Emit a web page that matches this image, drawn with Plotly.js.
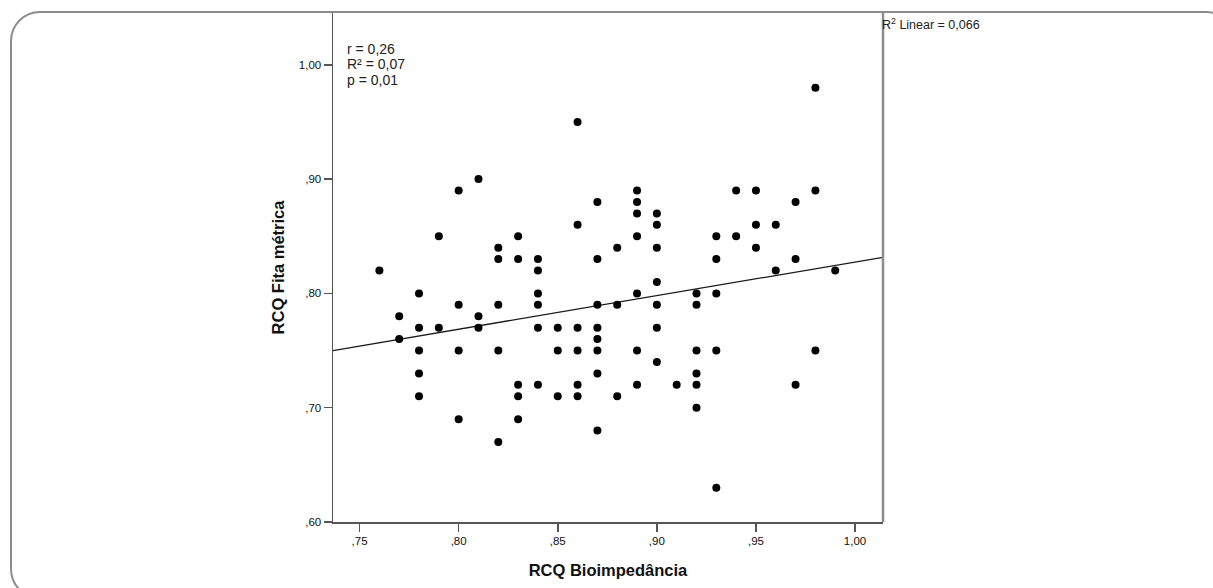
<!DOCTYPE html>
<html>
<head>
<meta charset="utf-8">
<script src="https://cdn.plot.ly/plotly-3.0.1.min.js"></script>
<style>
  html, body { margin: 0; padding: 0; background: #fff; overflow: hidden; }
  #wrap { position: relative; width: 1213px; height: 588px; }
  #chart { position: absolute; left: 0; top: 0; width: 1213px; height: 588px; }
  #frame { position: absolute; left: 10px; top: 11px; width: 1222px; height: 584px;
           border: 2.5px solid #8c8c8c; border-radius: 30px; pointer-events: none; }
</style>
</head>
<body>
<div id="wrap">
  <div id="chart"></div>
  <div id="frame"></div>
</div>
<script>
// RCQ Bioimpedância (x) vs RCQ Fita métrica (y)
const xBio = [
  0.76,
  0.77, 0.77,
  0.78, 0.78, 0.78, 0.78, 0.78,
  0.79, 0.79,
  0.80, 0.80, 0.80, 0.80,
  0.81, 0.81, 0.81,
  0.82, 0.82, 0.82, 0.82, 0.82,
  0.83, 0.83, 0.83, 0.83, 0.83,
  0.84, 0.84, 0.84, 0.84, 0.84, 0.84,
  0.85, 0.85, 0.85,
  0.86, 0.86, 0.86, 0.86, 0.86, 0.86,
  0.87, 0.87, 0.87, 0.87, 0.87, 0.87, 0.87, 0.87,
  0.88, 0.88, 0.88,
  0.89, 0.89, 0.89, 0.89, 0.89, 0.89, 0.89,
  0.90, 0.90, 0.90, 0.90, 0.90, 0.90, 0.90,
  0.91,
  0.92, 0.92, 0.92, 0.92, 0.92, 0.92,
  0.93, 0.93, 0.93, 0.93, 0.93,
  0.94, 0.94,
  0.95, 0.95, 0.95,
  0.96, 0.96,
  0.97, 0.97, 0.97,
  0.98, 0.98, 0.98,
  0.99
];
const yFita = [
  0.82,
  0.78, 0.76,
  0.80, 0.77, 0.75, 0.73, 0.71,
  0.85, 0.77,
  0.89, 0.79, 0.75, 0.69,
  0.90, 0.78, 0.77,
  0.84, 0.83, 0.79, 0.75, 0.67,
  0.85, 0.83, 0.72, 0.71, 0.69,
  0.83, 0.82, 0.80, 0.79, 0.77, 0.72,
  0.77, 0.75, 0.71,
  0.95, 0.86, 0.77, 0.75, 0.72, 0.71,
  0.88, 0.83, 0.79, 0.77, 0.76, 0.75, 0.73, 0.68,
  0.84, 0.79, 0.71,
  0.89, 0.88, 0.87, 0.85, 0.80, 0.75, 0.72,
  0.87, 0.86, 0.84, 0.81, 0.79, 0.77, 0.74,
  0.72,
  0.80, 0.79, 0.75, 0.73, 0.72, 0.70,
  0.85, 0.83, 0.80, 0.75, 0.63,
  0.89, 0.85,
  0.89, 0.86, 0.84,
  0.86, 0.82,
  0.88, 0.83, 0.72,
  0.98, 0.89, 0.75,
  0.82
];
// Linear fit line (end points)
const fitX = [0.7366, 1.0141];
const fitY = [0.7500, 0.8316];

const xTickVals = [0.75, 0.80, 0.85, 0.90, 0.95, 1.00];
const xTickText = [",75", ",80", ",85", ",90", ",95", "1,00"];
const yTickVals = [0.60, 0.70, 0.80, 0.90, 1.00];
const yTickText = [",60", ",70", ",80", ",90", "1,00"];

const statsLines = ["r = 0,26", "R² = 0,07", "p = 0,01"];
const fitLabel = "R<sup>2</sup> Linear = 0,066";
const xTitle = "RCQ Bioimpedância";
const yTitle = "RCQ Fita métrica";

const FONT = "Liberation Sans, Arial, Helvetica, sans-serif";

const traces = [
  {
    x: fitX, y: fitY, type: "scatter", mode: "lines",
    line: { color: "#1a1a1a", width: 1.3 },
    hoverinfo: "skip", showlegend: false
  },
  {
    x: xBio, y: yFita, type: "scatter", mode: "markers",
    marker: { color: "#000000", size: 8, line: { width: 0 } },
    showlegend: false
  }
];

const statsY = [0.9290, 0.8990, 0.8690];
const annotations = statsLines.map((t, i) => ({
  text: t, xref: "paper", yref: "paper", x: 0.021, y: statsY[i],
  xanchor: "left", yanchor: "middle", showarrow: false,
  font: { family: FONT, size: 14, color: "#222" }
}));
annotations.push({
  text: fitLabel, xref: "paper", yref: "paper", x: 1, y: 0.978,
  xanchor: "left", yanchor: "middle", showarrow: false, xshift: -3,
  font: { family: FONT, size: 12.5, color: "#222" }
});

const layout = {
  width: 1213, height: 588,
  margin: { l: 333, r: 330, t: 13, b: 66, pad: 0 },
  paper_bgcolor: "rgba(0,0,0,0)",
  plot_bgcolor: "#ffffff",
  showlegend: false,
  font: { family: FONT, color: "#111" },
  xaxis: {
    range: [0.7366, 1.0141],
    tickvals: xTickVals, ticktext: xTickText,
    showgrid: false, zeroline: false,
    showline: true, linecolor: "#555", linewidth: 1.5,
    ticks: "outside", ticklen: 8, tickwidth: 1.5, tickcolor: "#555",
    tickfont: { family: FONT, size: 11.5, color: "#111" },
    title: { text: xTitle, standoff: 18,
             font: { family: FONT, size: 16.5, color: "#111", weight: "bold" } }
  },
  yaxis: {
    range: [0.6, 1.0453],
    tickvals: yTickVals, ticktext: yTickText,
    showgrid: false, zeroline: false,
    showline: true, linecolor: "#555", linewidth: 1.5,
    ticks: "outside", ticklen: 8, tickwidth: 1.5, tickcolor: "#555",
    tickfont: { family: FONT, size: 11.5, color: "#111" },
    title: { text: yTitle, standoff: 10,
             font: { family: FONT, size: 16.5, color: "#111", weight: "bold" } }
  },
  shapes: [
    { type: "line", xref: "paper", yref: "paper", x0: 1, x1: 1, y0: 0, y1: 1,
      line: { color: "#8c8c8c", width: 2.5 } }
  ],
  annotations: annotations
};

Plotly.newPlot("chart", traces, layout, { displayModeBar: false, staticPlot: true });
</script>
</body>
</html>
